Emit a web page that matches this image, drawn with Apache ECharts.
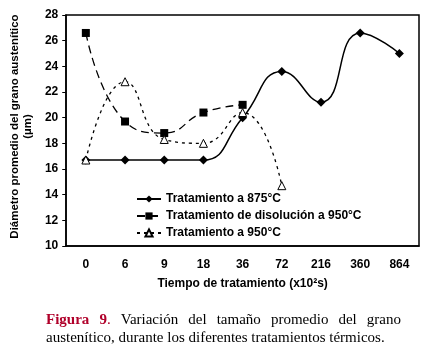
<!DOCTYPE html>
<html>
<head>
<meta charset="UTF-8">
<title>Figura 9</title>
<script src="https://cdn.jsdelivr.net/npm/echarts@6/dist/echarts.min.js"></script>
<style>
  html, body { margin: 0; padding: 0; background: #fff; }
</style>
</head>
<body>
<div id="main" style="width:422px;height:355px;"></div>
<script type="text/javascript">
// categorias del eje x (tiempo, x10^2 s)
var tiempos = ['0', '6', '9', '18', '36', '72', '216', '360', '864'];
// diametro medio (um) por tratamiento
var trat875 = [16.7, 16.7, 16.7, 16.7, 20.0, 23.6, 21.2, 26.6, 25.0];
var disol950 = [26.6, 19.7, 18.8, 20.4, 21.0];
var trat950 = [16.7, 22.8, 18.3, 18.0, 20.4, 14.7];

var nombres = ['Tratamiento a 875\u00b0C', 'Tratamiento de disolución a 950\u00b0C', 'Tratamiento a 950\u00b0C'];

var fuente = 'Liberation Sans, Arial, sans-serif';
var serif = 'Liberation Serif, Times New Roman, serif';
var myChart = echarts.init(document.getElementById('main'));

// pie de figura: primera linea justificada palabra a palabra
var linea1 = ['Figura', '9.', 'Variación', 'del', 'tamaño', 'promedio', 'del', 'grano'];
var linea2 = 'austenítico, durante los diferentes tratamientos térmicos.';
var ctx = document.createElement('canvas').getContext('2d');
var anchos = linea1.map(function (w, i) {
    ctx.font = (i == 0 ? 'bold ' : '') + '15px ' + serif;
    if (i == 1) {
        ctx.font = 'bold 15px ' + serif;
        var a = ctx.measureText('9').width;
        ctx.font = '15px ' + serif;
        return a + ctx.measureText('.').width;
    }
    return ctx.measureText(w).width;
});
var x0 = 46, x1 = 401;
var total = anchos.reduce(function (s, a) { return s + a; }, 0);
var hueco = (x1 - x0 - total) / (linea1.length - 1);
var graficos = [{
    // marco superior y derecho
    type: 'rect',
    shape: { x: 66, y: 15, width: 353, height: 231 },
    style: { fill: 'none', stroke: '#000', lineWidth: 1.5 },
    silent: true
}];
var x = x0;
linea1.forEach(function (w, i) {
    var txt = w;
    if (i == 0) txt = '{r|Figura}';
    if (i == 1) txt = '{r|9}{r2|.}';
    graficos.push({
        type: 'text',
        x: x,
        y: 313,
        style: {
            text: txt,
            fontFamily: serif,
            fontSize: 15,
            fill: '#000',
            rich: {
                r: { fontFamily: serif, fontWeight: 'bold', fontSize: 15, fill: '#b0002a' },
                r2: { fontFamily: serif, fontSize: 15, fill: '#b0002a' }
            }
        }
    });
    x += anchos[i] + hueco;
});
graficos.push({
    type: 'text',
    x: x0,
    y: 331,
    style: { text: linea2, fontFamily: serif, fontSize: 15, fill: '#000' }
});

var option = {
    animation: false,
    backgroundColor: '#fff',
    grid: { left: 66, right: 3, top: 15, bottom: 109 },
    legend: {
        left: 131,
        top: 188,
        orient: 'vertical',
        itemGap: 5,
        itemWidth: 24,
        itemHeight: 9,
        textStyle: { fontFamily: fuente, fontWeight: 'bold', fontSize: 12, color: '#000' },
        data: nombres
    },
    xAxis: {
        type: 'category',
        data: tiempos,
        boundaryGap: true,
        name: 'Tiempo de tratamiento (x10²s)',
        nameLocation: 'middle',
        nameGap: 32,
        nameTextStyle: { fontFamily: fuente, fontWeight: 'bold', fontSize: 12, color: '#000' },
        axisLine: { lineStyle: { color: '#000', width: 1.5 } },
        axisTick: { inside: true, length: 5, lineStyle: { color: '#000' } },
        axisLabel: { margin: 13, fontFamily: fuente, fontWeight: 'bold', fontSize: 12, color: '#000' },
        splitLine: { show: false }
    },
    yAxis: {
        type: 'value',
        min: 10,
        max: 28,
        interval: 2,
        name: 'Diámetro promedio del grano austenítico\n(µm)',
        nameLocation: 'middle',
        nameGap: 25,
        nameTextStyle: { fontFamily: fuente, fontWeight: 'bold', fontSize: 11.5, color: '#000', lineHeight: 13, padding: [0, 0, 0, 8] },
        axisLine: { show: true, lineStyle: { color: '#000', width: 1.5 } },
        axisTick: { show: true, length: 4, lineStyle: { color: '#000' } },
        axisLabel: { margin: 8, fontFamily: fuente, fontWeight: 'bold', fontSize: 12, color: '#000' },
        splitLine: { show: false }
    },
    series: [{
        name: nombres[0],
        type: 'line',
        smooth: 0.5,
        data: trat875,
        symbol: 'diamond',
        symbolSize: 9,
        itemStyle: { color: '#000' },
        lineStyle: { color: '#000', width: 1.5 }
    }, {
        name: nombres[1],
        type: 'line',
        smooth: 0.5,
        data: disol950,
        symbol: 'rect',
        symbolSize: 8,
        itemStyle: { color: '#000' },
        lineStyle: { color: '#000', width: 1.3, type: [8, 5] }
    }, {
        name: nombres[2],
        type: 'line',
        smooth: 0.5,
        data: trat950,
        symbol: 'triangle',
        symbolSize: 8,
        itemStyle: { color: '#fff', borderColor: '#000', borderWidth: 1 },
        lineStyle: { color: '#000', width: 1.3, type: [3, 4] }
    }],
    graphic: graficos
};

myChart.setOption(option);
</script>
</body>
</html>
